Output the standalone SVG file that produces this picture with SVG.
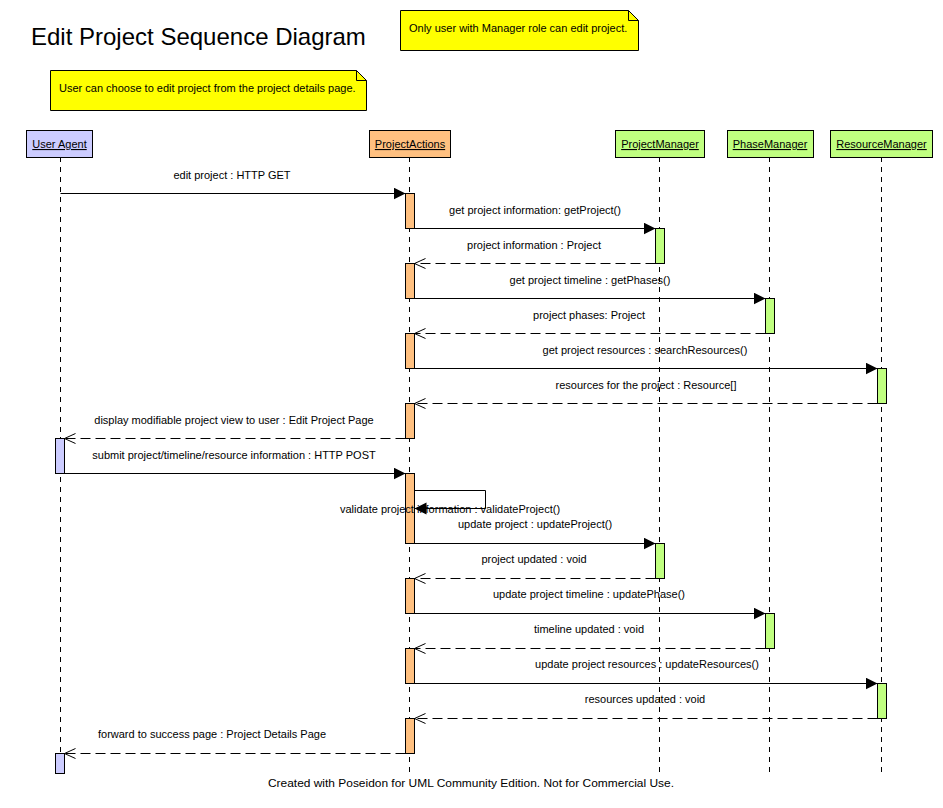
<svg xmlns="http://www.w3.org/2000/svg" width="943" height="808" viewBox="0 0 943 808">
<style>
text{font-family:"Liberation Sans",Arial,sans-serif;font-size:11px;fill:#000}
.title{font-size:24px}
.lbl{text-anchor:middle}
.head text{text-decoration:underline;text-anchor:middle}
.life{stroke:#000;stroke-dasharray:5 5;fill:none}
.msg{stroke:#000;fill:none;marker-end:url(#filled)}
.ret{stroke:#000;stroke-dasharray:10 5;fill:none;marker-end:url(#open)}
.ua{fill:#ccccff;stroke:#000}
.pa{fill:#ffc080;stroke:#000}
.mg{fill:#c0ff80;stroke:#000}
.note{fill:#ffff00;stroke:#000}
</style>
<defs>
<marker id="filled" markerWidth="13" markerHeight="13" refX="12" refY="6" orient="auto" markerUnits="userSpaceOnUse"><path d="M0,0 L12,6 L0,12 Z" fill="#000"/></marker>
<marker id="open" markerWidth="13" markerHeight="13" refX="11" refY="6" orient="auto" markerUnits="userSpaceOnUse"><path d="M0,1 L11,6 L0,11" fill="none" stroke="#000"/></marker>
</defs>
<rect width="943" height="808" fill="#fff"/>
<text class="title" x="31" y="45">Edit Project Sequence Diagram</text>

<g id="note-user">
<path class="note" d="M50.5,70.5 H356.5 L366.5,80.5 V110.5 H50.5 Z"/>
<path d="M356.5,70.5 V80.5 H366.5" fill="none" stroke="#000"/>
<text x="59" y="92">User can choose to edit project from the project details page.</text>
</g>
<g id="note-manager">
<path class="note" d="M400.5,10.5 H628.5 L638.5,20.5 V50.5 H400.5 Z"/>
<path d="M628.5,10.5 V20.5 H638.5" fill="none" stroke="#000"/>
<text x="409" y="32">Only user with Manager role can edit project.</text>
</g>

<g id="lifelines">
<line class="life" x1="60.5" y1="157" x2="60.5" y2="773"/>
<line class="life" x1="409.5" y1="157" x2="409.5" y2="773"/>
<line class="life" x1="659.5" y1="157" x2="659.5" y2="773"/>
<line class="life" x1="769.5" y1="157" x2="769.5" y2="773"/>
<line class="life" x1="881.5" y1="157" x2="881.5" y2="773"/>
</g>

<g id="user-agent" class="head">
<rect class="ua" x="26.5" y="130.5" width="66" height="27"/>
<text x="59.5" y="148">User Agent</text>
<rect class="ua" x="55.5" y="438.5" width="9" height="35"/>
<rect class="ua" x="55.5" y="753.5" width="9" height="20"/>
</g>
<g id="project-actions" class="head">
<rect class="pa" x="369.5" y="130.5" width="81" height="27"/>
<text x="410" y="148">ProjectActions</text>
<rect class="pa" x="405.5" y="193.5" width="9" height="35"/>
<rect class="pa" x="405.5" y="263.5" width="9" height="35"/>
<rect class="pa" x="405.5" y="333.5" width="9" height="35"/>
<rect class="pa" x="405.5" y="403.5" width="9" height="35"/>
<rect class="pa" x="405.5" y="473.5" width="9" height="70"/>
<rect class="pa" x="405.5" y="578.5" width="9" height="35"/>
<rect class="pa" x="405.5" y="648.5" width="9" height="35"/>
<rect class="pa" x="405.5" y="718.5" width="9" height="35"/>
</g>
<g id="project-manager" class="head">
<rect class="mg" x="615.5" y="130.5" width="89" height="27"/>
<text x="660" y="148">ProjectManager</text>
<rect class="mg" x="655.5" y="228.5" width="9" height="35"/>
<rect class="mg" x="655.5" y="543.5" width="9" height="35"/>
</g>
<g id="phase-manager" class="head">
<rect class="mg" x="727.5" y="130.5" width="86" height="27"/>
<text x="770" y="148">PhaseManager</text>
<rect class="mg" x="765.5" y="298.5" width="9" height="35"/>
<rect class="mg" x="765.5" y="613.5" width="9" height="35"/>
</g>
<g id="resource-manager" class="head">
<rect class="mg" x="830.5" y="130.5" width="102" height="27"/>
<text x="881.5" y="148">ResourceManager</text>
<rect class="mg" x="877.5" y="368.5" width="9" height="35"/>
<rect class="mg" x="877.5" y="683.5" width="9" height="35"/>
</g>

<g id="messages">
<line class="msg" x1="60.5" y1="193.5" x2="405.5" y2="193.5"/>
<line class="msg" x1="414.5" y1="228.5" x2="655.5" y2="228.5"/>
<line class="ret" x1="655.5" y1="263.5" x2="414.5" y2="263.5"/>
<line class="msg" x1="414.5" y1="298.5" x2="765.5" y2="298.5"/>
<line class="ret" x1="765.5" y1="333.5" x2="414.5" y2="333.5"/>
<line class="msg" x1="414.5" y1="368.5" x2="877.5" y2="368.5"/>
<line class="ret" x1="877.5" y1="403.5" x2="414.5" y2="403.5"/>
<line class="ret" x1="405.5" y1="438.5" x2="64.5" y2="438.5"/>
<line class="msg" x1="64.5" y1="473.5" x2="405.5" y2="473.5"/>
<path class="msg" d="M414.5,490.5 H485.5 V508.5 H414.5"/>
<line class="msg" x1="414.5" y1="543.5" x2="655.5" y2="543.5"/>
<line class="ret" x1="655.5" y1="578.5" x2="414.5" y2="578.5"/>
<line class="msg" x1="414.5" y1="613.5" x2="765.5" y2="613.5"/>
<line class="ret" x1="765.5" y1="648.5" x2="414.5" y2="648.5"/>
<line class="msg" x1="414.5" y1="683.5" x2="877.5" y2="683.5"/>
<line class="ret" x1="877.5" y1="718.5" x2="414.5" y2="718.5"/>
<line class="ret" x1="405.5" y1="753.5" x2="64.5" y2="753.5"/>

<text class="lbl" x="232" y="179">edit project : HTTP GET</text>
<text class="lbl" x="535" y="214">get project information: getProject()</text>
<text class="lbl" x="534" y="249">project information : Project</text>
<text class="lbl" x="590" y="284">get project timeline : getPhases()</text>
<text class="lbl" x="589" y="319">project phases: Project</text>
<text class="lbl" x="645" y="354">get project resources : searchResources()</text>
<text class="lbl" x="646" y="389">resources for the project : Resource[]</text>
<text class="lbl" x="234" y="424">display modifiable project view to user : Edit Project Page</text>
<text class="lbl" x="234" y="459">submit project/timeline/resource information : HTTP POST</text>
<text class="lbl" x="450" y="513">validate project information : validateProject()</text>
<text class="lbl" x="535" y="528">update project : updateProject()</text>
<text class="lbl" x="534" y="563">project updated : void</text>
<text class="lbl" x="589" y="598">update project timeline : updatePhase()</text>
<text class="lbl" x="589" y="633">timeline updated : void</text>
<text class="lbl" x="647" y="668">update project resources : updateResources()</text>
<text class="lbl" x="645" y="703">resources updated : void</text>
<text class="lbl" x="212" y="738">forward to success page : Project Details Page</text>
</g>

<text class="lbl" x="471" y="787" textLength="406" lengthAdjust="spacingAndGlyphs">Created with Poseidon for UML Community Edition. Not for Commercial Use.</text>
</svg>
